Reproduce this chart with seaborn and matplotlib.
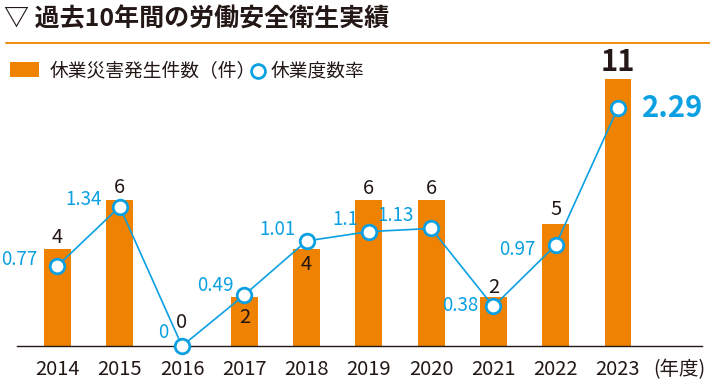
import matplotlib
matplotlib.use("Agg")
import matplotlib.pyplot as plt
from matplotlib.lines import Line2D
from matplotlib.patches import Rectangle
import numpy as np
import seaborn as sns

years = ["2014", "2015", "2016", "2017", "2018", "2019", "2020", "2021", "2022", "2023"]
cases = [4, 6, 0, 2, 4, 6, 6, 2, 5, 11]
rates = [0.77, 1.34, 0, 0.49, 1.01, 1.1, 1.13, 0.38, 0.97, 2.29]
rate_labels = ["0.77", "1.34", "0", "0.49", "1.01", "1.1", "1.13", "0.38", "0.97", "2.29"]

ORANGE = "#EF8200"
BLUE = "#0BA0E2"
DARK = "#231815"
JP = ["Noto Sans CJK JP", "DejaVu Sans"]

sns.set_style("white")
plt.rcParams["font.family"] = JP


def px(v):
    # pixels -> points at dpi 100
    return v * 0.72


fig = plt.figure(figsize=(7.1, 3.85), dpi=100)
W, H = 710, 385
base_y, top_y = 346, 45
ax = fig.add_axes([17 / W, (H - base_y) / H, (702 - 17) / W, (base_y - top_y) / H])

sns.barplot(x=years, y=cases, color=ORANGE, saturation=1, width=0.43,
            linewidth=0, ax=ax)

ax2 = ax.twinx()
sns.lineplot(x=np.arange(len(years)), y=rates, color=BLUE, lw=1.2, marker="o",
             markersize=10.5, markerfacecolor="white", markeredgecolor=BLUE,
             markeredgewidth=2, ax=ax2, clip_on=False, zorder=5)

ax.set_xlim(-0.65, 10.35)
ax.set_ylim(0, (base_y - top_y) / 24.3)
ax2.set_ylim(0, (base_y - top_y) / 104)

for a in (ax, ax2):
    for s in ["top", "right", "left"]:
        a.spines[s].set_visible(False)
    a.set_yticks([])
    a.set_ylabel("")
    a.set_xlabel("")
ax2.spines["bottom"].set_visible(False)
ax.spines["bottom"].set_color(DARK)
ax.spines["bottom"].set_linewidth(1.0)
ax.set_xticks(range(len(years)))
ax.set_xticklabels(years, fontsize=14.5, color=DARK)
ax.tick_params(axis="x", length=0, pad=px(13))

# bar value labels (offset in px from bar top)
bar_off = [11, 13, 23, -20, -16, 12, 12, 10, 15, 17]
for i, (c, off) in enumerate(zip(cases, bar_off)):
    big = i == len(cases) - 1
    ax.annotate(str(c), (i, c), xytext=(0, px(off)), textcoords="offset points",
                ha="center", va="center", color=DARK,
                fontsize=21 if big else 14.5, fontweight="bold" if big else "normal")

# rate labels (dx, dy in px from marker)
rate_off = [(-20, 6), (-18, 7), (-14, 13), (-11, 10), (-11, 11), (-10, 12),
            (-17, 13), (-15, 1), (-20, -4), (24, 0)]
for i, (r, lab, (dx, dy)) in enumerate(zip(rates, rate_labels, rate_off)):
    big = i == len(rates) - 1
    ax2.annotate(lab, (i, r), xytext=(px(dx), px(dy)), textcoords="offset points",
                 ha="left" if big else "right", va="center", color=BLUE,
                 fontsize=21 if big else 13.5, fontweight="bold" if big else "normal",
                 zorder=6)

fig.text(705 / W, 1 - 370 / H, "(年度)", fontsize=14, color=DARK, ha="right", va="center")

# title and rule
fig.text(4 / W, 1 - 19 / H, "▽ 過去10年間の労働安全衛生実績", fontsize=18,
         fontweight="bold", color=DARK, ha="left", va="center")
fig.add_artist(Line2D([6 / W, 1], [1 - 43 / H] * 2, color=ORANGE, lw=1.3))

# legend
fig.add_artist(Rectangle((10 / W, 1 - 77 / H), 29 / W, 15 / H, color=ORANGE, lw=0))
fig.text(50 / W, 1 - 71 / H, "休業災害発生件数（件）", fontsize=13.5, color=DARK,
         ha="left", va="center")
fig.add_artist(Line2D([258 / W], [1 - 71 / H], marker="o", markersize=10,
                      markerfacecolor="white", markeredgecolor=BLUE, markeredgewidth=2))
fig.text(271 / W, 1 - 71 / H, "休業度数率", fontsize=13.5, color=DARK,
         ha="left", va="center")

fig.savefig("out.png", dpi=100)
